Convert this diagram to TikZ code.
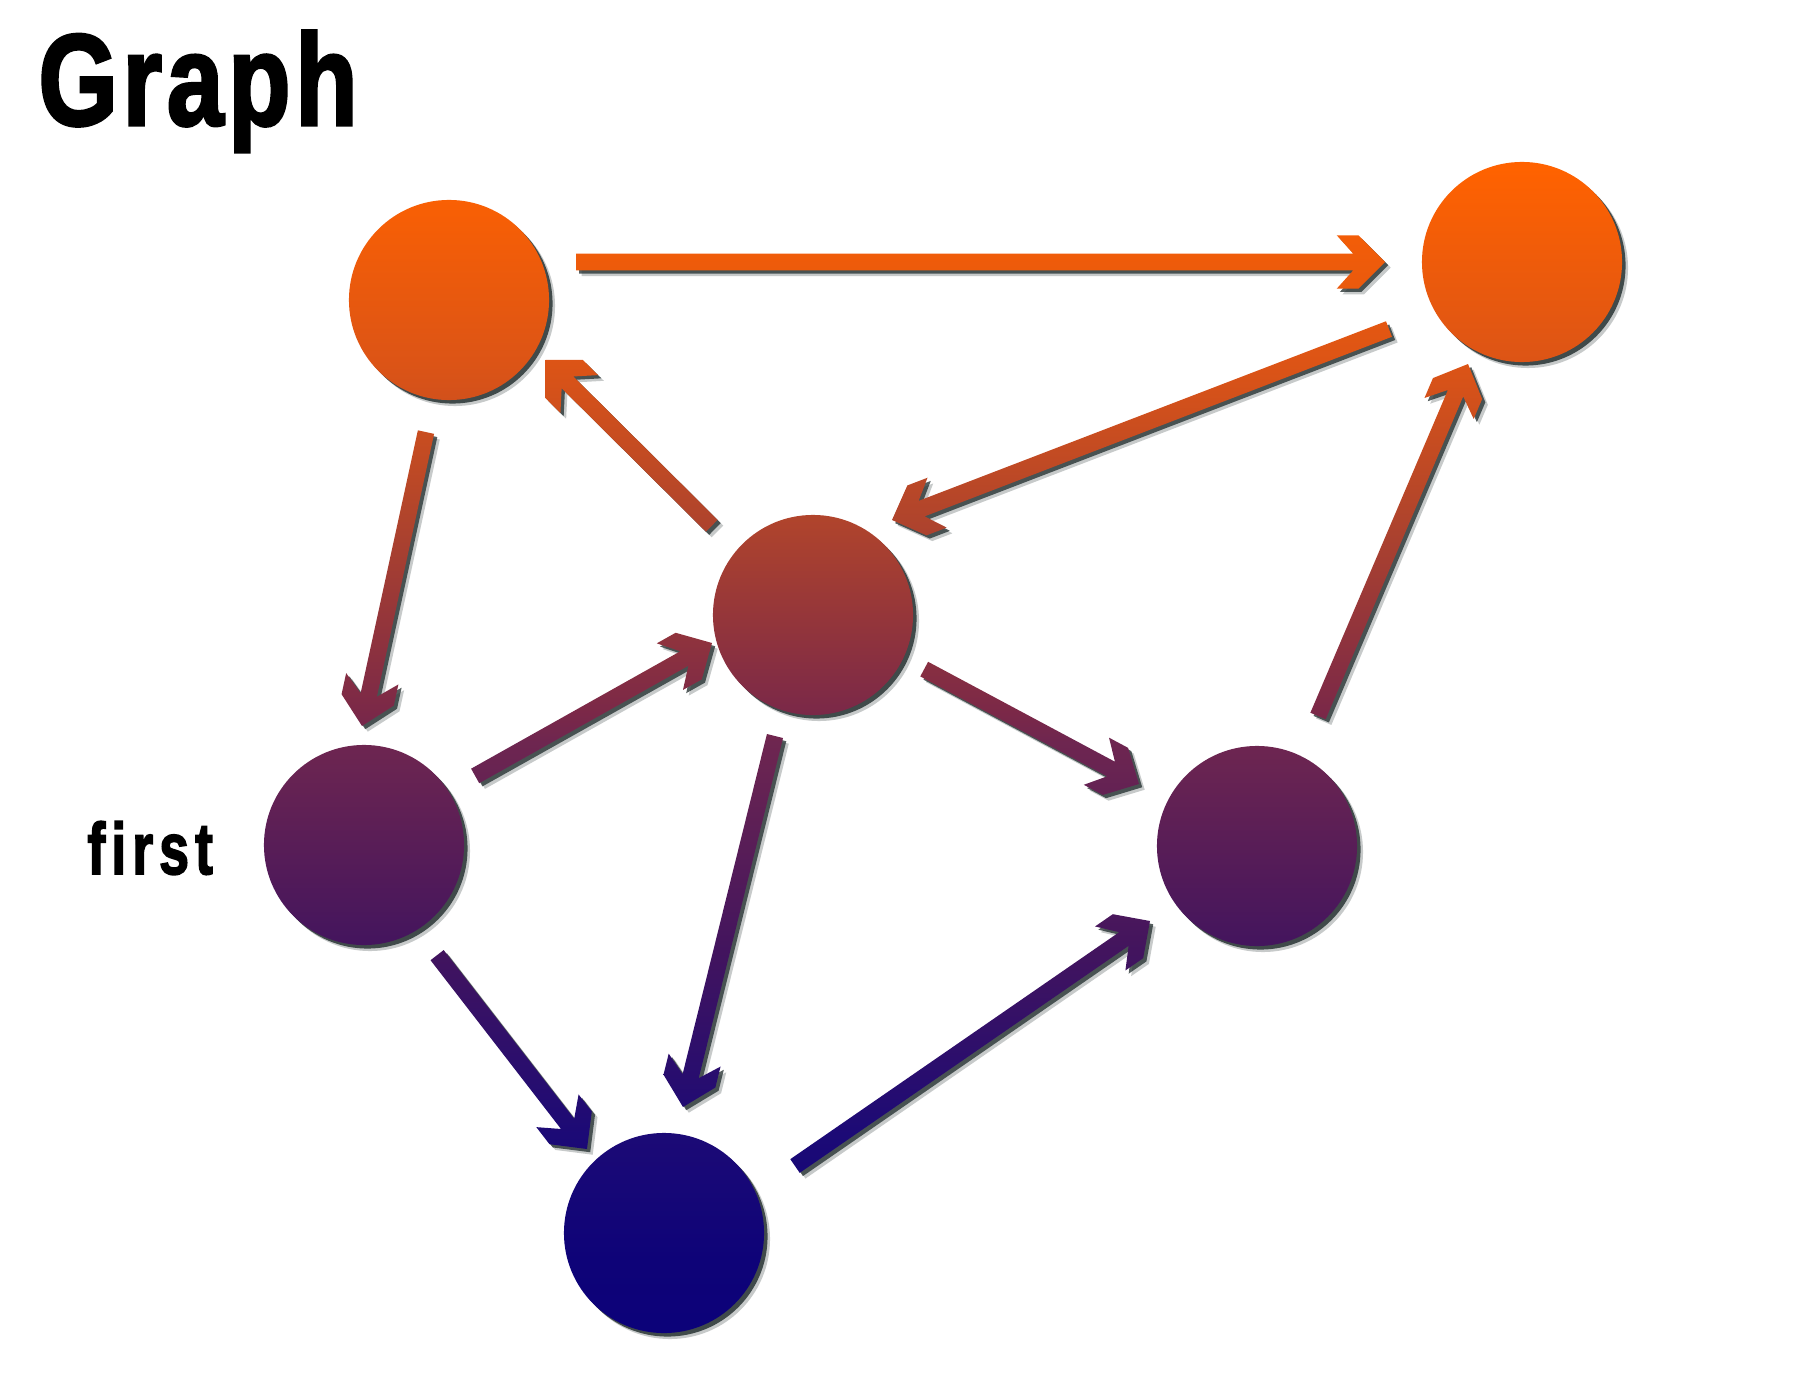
\documentclass[tikz,border=0pt]{standalone}
\usepackage{fontspec}
\setmainfont{Liberation Sans}
\newfontfamily\heavyfont{Liberation Sans Bold}[FakeBold=2.5]
\usetikzlibrary{calc,shadows}

\definecolor{shadowgray}{RGB}{30,42,42}
\definecolor{gsA}{HTML}{0A007A}
\definecolor{gsB}{HTML}{0E0378}
\definecolor{gsC}{HTML}{1C0A76}
\definecolor{gsD}{HTML}{42145E}
\definecolor{gsE}{HTML}{6E2650}
\definecolor{gsF}{HTML}{7A2848}
\definecolor{gsG}{HTML}{B0442C}
\definecolor{gsH}{HTML}{DC5416}
\definecolor{gsI}{HTML}{FF6200}
\definecolor{gsJ}{HTML}{FF6400}

\pgfdeclareverticalshading{graphshade}{100bp}{%
  color(0bp)=(gsA); color(25bp)=(gsA); color(30bp)=(gsB); color(34.5bp)=(gsC);
  color(41bp)=(gsD); color(48.5bp)=(gsE); color(49.5bp)=(gsF); color(56.5bp)=(gsG);
  color(62bp)=(gsH); color(69bp)=(gsI); color(75bp)=(gsJ); color(100bp)=(gsJ)}

\tikzset{
  graphfill/.style={path picture={\shade[reset cm,shading=graphshade] (0,0) rectangle (1800,1400);}},
  vertex/.style={circle,minimum size=2cm,inner sep=0pt},
  disc/.style={graphfill,
    drop shadow={shadow xshift=1.7pt,shadow yshift=-1.7pt,fill=shadowgray,opacity=.25},
    drop shadow={shadow xshift=1pt,shadow yshift=-1pt,fill=shadowgray,opacity=.8}},
  arrowshadow/.style={fill=shadowgray,opacity=#1},
  title/.style={anchor=base west,font=\fontsize{33}{33}\heavyfont},
  tag/.style={anchor=base west,font=\fontsize{18}{18}\heavyfont}
}

\newcommand{\ArrowShape}[1]{%
  \path[#1] (0pt,0pt) -- (-7.6pt,7.6pt) -- (-13.74pt,7.6pt) -- (-9.02pt,2.36pt)
    -- (-\ArrLen pt,2.36pt) -- (-\ArrLen pt,-2.36pt) -- (-9.02pt,-2.36pt)
    -- (-13.74pt,-7.6pt) -- (-7.6pt,-7.6pt) -- cycle;
}
\newcommand{\GraphArrow}[2]{%
  \path let \p1=($(#2)-(#1)$) in \pgfextra{%
    \pgfmathsetmacro\ArrAng{atan2(\y1,\x1)}%
    \pgfmathsetmacro\ArrLen{veclen(\x1,\y1)}%
    \xdef\ArrAng{\ArrAng}\xdef\ArrLen{\ArrLen}};
  \ArrowShape{arrowshadow=.25,shift={(#2)},rotate=\ArrAng,shift={({-45-\ArrAng}:2.3pt)}}
  \ArrowShape{arrowshadow=.75,shift={(#2)},rotate=\ArrAng,shift={({-45-\ArrAng}:1.3pt)}}
  \ArrowShape{graphfill,shift={(#2)},rotate=\ArrAng}
}

\begin{document}
\begin{tikzpicture}[x=0.01cm,y=-0.01cm]
    \useasboundingbox (0,0) rectangle (1800,1400);
    \node[title] (title) at (26,125) {\scalebox{0.88}[1.12]{G\kern1.5pt r\kern1.5pt a\kern1.5pt p\kern1.5pt h}};
    \node[tag] (firstlabel) at (75,874) {\scalebox{0.85}[1.15]{f\kern2pt i\kern2pt r\kern2pt s\kern2pt t}};

    \node[vertex] (A) at (449,300) {};
    \node[vertex] (B) at (1522,262) {};
    \node[vertex] (C) at (813,615) {};
    \node[vertex] (D) at (364,845) {};
    \node[vertex] (E) at (1257,846) {};
    \node[vertex] (F) at (664,1233) {};
    \foreach \v in {A,B,C,D,E,F}
        \path[disc] (\v.center) circle[radius=1cm];

    \coordinate (ab-t) at ([shift={(127,-38)}]A.center);
    \coordinate (ab-h) at ([shift={(-137,0)}]B.center);
    \coordinate (bc-t) at ([shift={(-133,67)}]B.center);
    \coordinate (bc-h) at ([shift={(79,-95)}]C.center);
    \coordinate (eb-t) at ([shift={(61,-130)}]E.center);
    \coordinate (eb-h) at ([shift={(-54,102)}]B.center);
    \coordinate (ca-t) at ([shift={(-101,-89)}]C.center);
    \coordinate (ca-h) at ([shift={(96,60)}]A.center);
    \coordinate (ad-t) at ([shift={(-23,132)}]A.center);
    \coordinate (ad-h) at ([shift={(-2,-119)}]D.center);
    \coordinate (dc-t) at ([shift={(111,-69)}]D.center);
    \coordinate (dc-h) at ([shift={(-101,28)}]C.center);
    \coordinate (ce-t) at ([shift={(111,54)}]C.center);
    \coordinate (ce-h) at ([shift={(-118,-62)}]E.center);
    \coordinate (cf-t) at ([shift={(-38,121)}]C.center);
    \coordinate (cf-h) at ([shift={(19,-126)}]F.center);
    \coordinate (df-t) at ([shift={(73,110)}]D.center);
    \coordinate (df-h) at ([shift={(-77,-84)}]F.center);
    \coordinate (fe-t) at ([shift={(131,-67)}]F.center);
    \coordinate (fe-h) at ([shift={(-107,75)}]E.center);

    \GraphArrow{ab-t}{ab-h}
    \GraphArrow{bc-t}{bc-h}
    \GraphArrow{eb-t}{eb-h}
    \GraphArrow{ca-t}{ca-h}
    \GraphArrow{ad-t}{ad-h}
    \GraphArrow{dc-t}{dc-h}
    \GraphArrow{ce-t}{ce-h}
    \GraphArrow{cf-t}{cf-h}
    \GraphArrow{df-t}{df-h}
    \GraphArrow{fe-t}{fe-h}
\end{tikzpicture}
\end{document}
